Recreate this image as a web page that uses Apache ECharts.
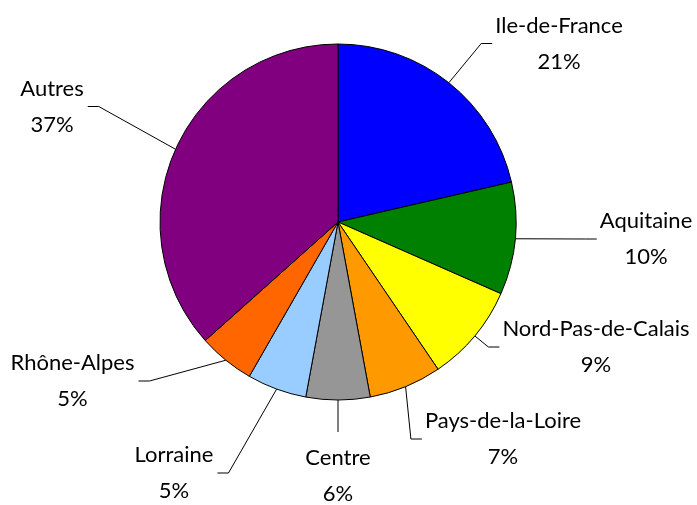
<!DOCTYPE html>
<html>
<head>
<meta charset="utf-8">
<script src="https://cdn.jsdelivr.net/npm/echarts@6/dist/echarts.min.js"></script>
<style>
    html, body { margin: 0; padding: 0; background: #fff; }
    #chart { width: 697px; height: 505px; }
</style>
</head>
<body>
<div id="chart"></div>
<script>
const regions = ['Ile-de-France', 'Aquitaine', 'Nord-Pas-de-Calais', 'Pays-de-la-Loire', 'Centre', 'Lorraine', 'Rhône-Alpes', 'Autres'];
const shares = [21.4, 10.2, 8.9, 6.6, 5.8, 5.4, 5.1, 36.6];
const sliceColors = ['#0000FF', '#008000', '#FFFF00', '#FF9900', '#969696', '#99CCFF', '#FF6600', '#800080'];

// where each label block sits (centre) and which side the leader line joins
const labelSpots = [
    [559, 43.5, 'left'],
    [646, 239, 'left'],
    [596, 347, 'left'],
    [503, 439, 'left'],
    [338, 476, 'top'],
    [174, 473, 'right'],
    [72.5, 381, 'right'],
    [52, 106.5, 'right']
];

const chart = echarts.init(document.getElementById('chart'));

const option = {
    animation: false,
    backgroundColor: '#ffffff',
    series: [{
        type: 'pie',
        center: [338, 222],
        radius: 178,
        startAngle: 90,
        clockwise: true,
        avoidLabelOverlap: false,
        data: regions.map(function (name, i) {
            return { name: name, value: shares[i], itemStyle: { color: sliceColors[i] } };
        }),
        itemStyle: {
            borderColor: '#000',
            borderWidth: 1
        },
        label: {
            show: true,
            position: 'outside',
            overflow: 'none',
            color: '#000',
            fontFamily: 'Lato',
            fontSize: 22,
            lineHeight: 36,
            formatter: function (p) {
                return p.name + '\n' + Math.round(p.percent) + '%';
            }
        },
        labelLine: {
            show: true,
            length: 20,
            length2: 11,
            lineStyle: { color: '#000', width: 1 }
        },
        labelLayout: function (params) {
            const spot = labelSpots[params.dataIndex];
            const w = params.labelRect.width, h = params.labelRect.height;
            const p0 = params.labelLinePoints[0];
            let end, bend;
            if (spot[2] === 'left') {
                end = [spot[0] - w / 2 - 3, spot[1]];
                bend = [end[0] - 11, end[1]];
            } else if (spot[2] === 'right') {
                end = [spot[0] + w / 2 + 4, spot[1]];
                bend = [end[0] + 11, end[1]];
            } else {
                end = [spot[0], spot[1] - h / 2 - 8];
                bend = end.slice();
            }
            return {
                x: spot[0],
                y: spot[1],
                align: 'center',
                verticalAlign: 'middle',
                labelLinePoints: [p0, bend, end]
            };
        },
        emphasis: { disabled: true }
    }]
};
chart.setOption(option);

window.onresize = function () {
    chart.resize();
};
</script>
</body>
</html>
